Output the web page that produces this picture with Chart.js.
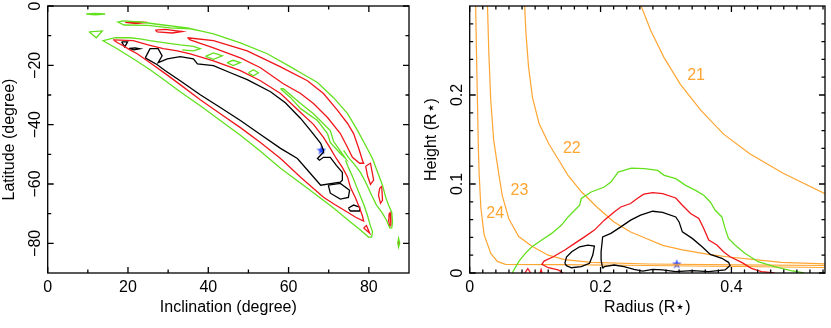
<!DOCTYPE html>
<html>
<head>
<meta charset="utf-8">
<script src="https://cdn.jsdelivr.net/npm/chart.js@4.4.1/dist/chart.umd.min.js"></script>
<style>
  html, body { margin: 0; padding: 0; background: #fff; }
  #wrap { position: relative; width: 831px; height: 328px; }
  #c1 { position: absolute; left: 0; top: 0; }
  #c2 { position: absolute; left: 420px; top: 0; }
</style>
</head>
<body>
<div id="wrap">
  <canvas id="c1" width="420" height="328"></canvas>
  <canvas id="c2" width="411" height="328"></canvas>
</div>
<script>
// ---- left panel: inclination / latitude contours ----
const incTicks = [0, 20, 40, 60, 80];
const incLabels = ['0', '20', '40', '60', '80'];
const incMinor = [10, 30, 50, 70];
const latTicks = [0, -20, -40, -60, -80];
const latLabels = ['0', '\u221220', '\u221240', '\u221260', '\u221280'];
const latMinor = [-10, -30, -50, -70];

const greenTopDash = [[9.6, -2.7], [11.8, -2.5], [14.3, -2.7], [11.8, -3.0]];
const greenTriangle = [[10.3, -8.7], [13.6, -8.4], [12.1, -10.7]];
const greenDiamond1 = [[39.3, -17.0], [41.3, -15.8], [43.5, -16.8], [41.3, -18.0]];
const greenDiamond2 = [[44.7, -19.1], [46.2, -18.3], [48.0, -19.1], [46.2, -20.1]];
const greenDiamond3 = [[50.0, -22.5], [51.2, -21.5], [52.5, -22.5], [51.2, -23.5]];
const greenFarDot = [[87.2, -79.9], [87.4, -78.3], [87.7, -79.9], [87.4, -81.3]];
const greenChannel = [[58.0, -27.9], [60.5, -30.9], [63.0, -34.6], [67.2, -38.6], [69.7, -43.0], [70.4, -46.0],
  [72.9, -49.7], [74.2, -51.4], [73.7, -50.4], [71.2, -45.6], [70.4, -42.0], [66.2, -36.3], [63.0, -32.9], [58.7, -27.9]];
const greenLowerBand = [[33.5, -14.8], [36.3, -15.1], [38.0, -14.4], [36.3, -13.6], [33.0, -13.1], [29.3, -12.4],
  [25.5, -11.7], [23.0, -11.1], [20.5, -10.7], [16.8, -10.7], [13.8, -11.7],
  [17.3, -14.4], [21.3, -17.8], [25.5, -21.5], [29.3, -25.2], [33.0, -28.9], [38.0, -33.6], [43.0, -38.6],
  [48.0, -43.6], [53.0, -49.0], [58.0, -54.7], [64.7, -61.4], [71.2, -68.1], [75.4, -72.8], [77.9, -75.5],
  [79.9, -77.9], [80.7, -77.9],
  [80.9, -76.0], [80.4, -74.2], [79.7, -70.8], [78.9, -67.5], [77.9, -64.1], [76.9, -60.8], [75.9, -57.4],
  [74.9, -54.4], [74.2, -52.0]];
const greenUpperBand = [[73.7, -48.7], [74.9, -51.0], [76.4, -53.4], [77.9, -56.1], [79.2, -59.4], [80.7, -63.8],
  [81.9, -67.1], [83.2, -69.5], [84.4, -72.2], [85.2, -74.8],
  [85.7, -74.8], [85.9, -72.8], [85.7, -69.5], [84.9, -67.1], [84.2, -64.5], [83.4, -60.4], [82.2, -56.1],
  [80.9, -51.4], [79.2, -47.0], [77.2, -42.0], [74.7, -36.3], [71.2, -30.9], [67.2, -25.8], [63.0, -22.5],
  [60.5, -20.5], [54.7, -16.1], [48.0, -12.4], [41.3, -9.4], [34.8, -7.4], [28.8, -6.4], [23.0, -5.4],
  [18.8, -5.0], [17.5, -5.4],
  [19.0, -6.4], [25.0, -6.5], [30.5, -7.4], [35.5, -7.7], [38.0, -8.4]];

const redMain = [[16.3, -11.4], [21.3, -11.7], [25.0, -13.1], [28.8, -14.4], [32.3, -15.1], [35.5, -16.1],
  [41.3, -18.5], [48.0, -21.8], [53.0, -25.2], [58.0, -29.5], [63.0, -35.9], [66.2, -39.9], [68.7, -44.3],
  [70.4, -48.0], [71.9, -51.4], [73.4, -54.4], [74.7, -57.7], [75.4, -61.1], [76.7, -64.8], [77.7, -68.1],
  [78.4, -70.8], [78.7, -72.5],
  [76.7, -71.2], [74.7, -69.5], [71.7, -67.1], [68.7, -64.5], [63.0, -57.7], [58.0, -51.4], [53.0, -46.0],
  [48.0, -41.0], [43.0, -36.3], [38.0, -31.6], [33.0, -26.5], [29.3, -22.8], [25.5, -19.1], [22.3, -16.1],
  [20.5, -14.8], [18.8, -13.4], [17.3, -12.3]];
const redUpper = [[34.8, -10.7], [41.3, -11.7], [49.7, -15.1], [58.0, -20.5], [64.7, -25.2], [68.7, -29.5],
  [72.2, -35.2], [74.7, -39.6], [76.2, -43.0], [77.4, -47.7], [78.4, -52.0], [78.7, -53.0],
  [77.7, -53.0], [75.9, -51.0], [74.7, -47.7], [72.9, -43.0], [69.7, -37.6], [66.2, -32.9], [63.0, -29.5],
  [58.7, -26.2], [53.0, -20.8], [48.0, -17.5], [41.3, -14.1], [35.5, -11.4]];
const redDash1 = [[19.3, -5.5], [22.0, -5.4], [24.8, -5.5], [22.0, -5.9]];
const redDash2 = [[26.8, -8.1], [29.3, -7.9], [33.5, -8.6], [31.0, -9.1], [27.3, -8.7]];
const redLoop1 = [[79.2, -54.0], [80.4, -53.0], [81.2, -58.7], [80.4, -60.1], [79.7, -57.4]];
const redLoop2 = [[82.7, -61.4], [83.2, -60.8], [83.4, -65.5], [82.9, -66.5], [82.4, -63.8]];
const redLoop3 = [[85.0, -70.2], [85.3, -69.7], [85.5, -73.8], [85.2, -74.2], [84.9, -72.2]];
const redTriangle = [[78.7, -74.8], [79.4, -74.0], [80.2, -76.6]];
const redDot1 = [[11.6, -2.8], [12.3, -2.8]];
const redDot2 = [[87.4, -79.4], [87.4, -80.4]];

const blackMain = [[24.3, -17.5], [25.5, -14.4], [27.5, -14.4], [28.5, -16.8], [27.5, -19.1], [29.8, -17.8],
  [33.0, -17.1], [36.3, -17.8], [37.3, -19.5], [41.3, -20.1], [45.5, -22.5], [49.7, -24.8], [55.5, -28.9],
  [59.2, -32.6], [63.0, -37.9], [65.5, -42.0], [68.0, -46.3], [68.7, -48.7], [68.7, -49.3], [67.2, -51.4],
  [67.7, -52.0], [68.7, -51.0], [70.4, -51.0], [71.9, -53.7], [73.4, -56.1], [73.4, -58.7], [72.9, -59.4],
  [68.0, -60.4], [62.2, -51.4], [58.0, -48.0], [53.0, -43.3], [48.0, -38.6], [43.0, -34.2], [38.0, -29.9],
  [33.0, -25.2], [29.3, -21.8], [27.3, -19.8]];
const blackTriangle = [[18.4, -12.1], [19.9, -12.1], [19.2, -13.8]];
const blackDash = [[20.3, -14.3], [21.8, -14.1], [23.0, -14.4], [21.5, -14.8]];
const blackPentagon = [[69.9, -60.4], [72.9, -59.8], [75.2, -62.1], [74.9, -64.5], [72.9, -65.1], [70.4, -63.1]];
const blackSmall = [[74.9, -68.1], [76.2, -67.1], [77.7, -67.8], [77.7, -69.1], [75.4, -69.1]];
const bestLeft = [[68.2, -48.7]];

// ---- right panel: radius / height contours ----
const radTicks = [0, 0.2, 0.4];
const radLabels = ['0', '0.2', '0.4'];
const radMinor = [0.02, 0.04, 0.06, 0.08, 0.1, 0.12, 0.14, 0.16, 0.18, 0.22, 0.24, 0.26, 0.28, 0.3,
  0.32, 0.34, 0.36, 0.38, 0.42, 0.44, 0.46, 0.48, 0.5, 0.52, 0.54];
const hgtTicks = [0, 0.1, 0.2];
const hgtLabels = ['0', '0.1', '0.2'];
const hgtMinor = [0.02, 0.04, 0.06, 0.08, 0.12, 0.14, 0.16, 0.18, 0.22, 0.24, 0.26, 0.28];
const levelNames = ['21', '22', '23', '24'];

const level21 = [[0.262, 0.300], [0.277, 0.272], [0.297, 0.242], [0.322, 0.212], [0.353, 0.183],
  [0.388, 0.156], [0.428, 0.134], [0.479, 0.112], [0.543, 0.089]];
const level22 = [[0.084, 0.300], [0.086, 0.269], [0.090, 0.231], [0.096, 0.197], [0.106, 0.168],
  [0.121, 0.145], [0.136, 0.127], [0.150, 0.110], [0.171, 0.091], [0.196, 0.073], [0.221, 0.057],
  [0.246, 0.046], [0.269, 0.039], [0.295, 0.031], [0.325, 0.026], [0.365, 0.021], [0.396, 0.018],
  [0.436, 0.015], [0.476, 0.012], [0.543, 0.0103]];
const level23 = [[0.0272, 0.300], [0.0291, 0.250], [0.0322, 0.194], [0.0367, 0.149], [0.0447, 0.110],
  [0.0498, 0.087], [0.0598, 0.061], [0.0749, 0.041], [0.0951, 0.030], [0.120, 0.020], [0.145, 0.015],
  [0.186, 0.012], [0.274, 0.0101], [0.408, 0.0092], [0.543, 0.0084]];
const level24 = [[0.0091, 0.300], [0.0103, 0.250], [0.0118, 0.194], [0.0133, 0.138], [0.0145, 0.110],
  [0.0171, 0.073], [0.0220, 0.043], [0.0322, 0.022], [0.0423, 0.013], [0.0548, 0.0097], [0.136, 0.0093],
  [0.272, 0.0084], [0.408, 0.0073], [0.543, 0.0062]];

const greenRH = [[0.0649, 0], [0.0749, 0.0127], [0.0850, 0.0221], [0.0951, 0.0295], [0.1102, 0.0370],
  [0.1253, 0.0445], [0.1404, 0.0538], [0.1503, 0.0630], [0.1605, 0.0705], [0.1680, 0.0761], [0.1706, 0.0837],
  [0.1857, 0.0910], [0.2057, 0.0966], [0.2158, 0.1022], [0.2269, 0.1134], [0.2469, 0.1179], [0.2672, 0.1172],
  [0.2872, 0.1153], [0.2974, 0.1097], [0.3149, 0.1060], [0.3300, 0.0985], [0.3451, 0.0929], [0.3577, 0.0873],
  [0.3677, 0.0798], [0.3753, 0.0705], [0.3854, 0.0630], [0.3903, 0.0501], [0.3955, 0.0389], [0.4054, 0.0314],
  [0.4205, 0.0221], [0.4408, 0.0127], [0.4658, 0.0071], [0.4910, 0.0026], [0.5111, 0]];
const redRH = [[0.1428, 0], [0.1352, 0.0034], [0.1202, 0.0059], [0.1102, 0.0097], [0.1137, 0.0134],
  [0.1277, 0.0183], [0.1454, 0.0258], [0.1605, 0.0333], [0.1755, 0.0406], [0.1906, 0.0482], [0.2057, 0.0594],
  [0.2208, 0.0686], [0.2309, 0.0742], [0.2460, 0.0781], [0.2560, 0.0837], [0.2661, 0.0885], [0.2797, 0.0904],
  [0.2948, 0.0893], [0.3149, 0.0843], [0.3250, 0.0761], [0.3375, 0.0669], [0.3502, 0.0613], [0.3577, 0.0501],
  [0.3653, 0.0370], [0.3778, 0.0314], [0.3879, 0.0239], [0.3979, 0.0183], [0.4156, 0.0120], [0.4306, 0.0053],
  [0.4457, 0.0015], [0.4658, 0]];
const redBump1 = [[0.0842, 0], [0.0888, 0.0050], [0.0933, 0]];
const redBump2 = [[0.1076, 0], [0.1091, 0.0039], [0.1106, 0]];
const blackSmallRH = [[0.1454, 0.0109], [0.1479, 0.0179], [0.1559, 0.0239], [0.1680, 0.0295], [0.1805, 0.0314],
  [0.1906, 0.0302], [0.1881, 0.0202], [0.1831, 0.0109], [0.1706, 0.0071], [0.1555, 0.0059], [0.1479, 0.0082]];
const blackMainRH = [[0.2032, 0.0053], [0.2008, 0.0146], [0.2008, 0.0239], [0.2032, 0.0406], [0.2158, 0.0445],
  [0.2309, 0.0518], [0.2460, 0.0594], [0.2611, 0.0650], [0.2797, 0.0694], [0.2948, 0.0680], [0.3149, 0.0630],
  [0.3200, 0.0574], [0.3250, 0.0462], [0.3401, 0.0389], [0.3552, 0.0295], [0.3677, 0.0209], [0.3854, 0.0165],
  [0.3955, 0.0120], [0.3979, 0.0084], [0.3903, 0.0034], [0.3653, 0.0015], [0.3401, 0.0026], [0.3149, 0.0015],
  [0.2948, 0.0034], [0.2797, 0.0041], [0.2646, 0.0022], [0.2510, 0.0041], [0.2359, 0.0071], [0.2208, 0.0090],
  [0.2057, 0.0071]];
const bestRight = [[0.3164, 0.0097]];

// ---- drawing ----
const FONT = '"Liberation Sans", Arial, Helvetica, sans-serif';
const GREEN = '#63e01e';
const RED = '#f0161b';
const ORANGE = '#ffa532';

function starImage(size, color) {
  const c = document.createElement('canvas');
  c.width = c.height = size;
  const g = c.getContext('2d');
  g.fillStyle = color;
  g.beginPath();
  for (let i = 0; i < 10; i++) {
    const r = i % 2 ? size * 0.21 : size * 0.5;
    const a = -Math.PI / 2 + i * Math.PI / 5;
    g.lineTo(size / 2 + r * Math.cos(a), size / 2 + r * Math.sin(a));
  }
  g.closePath();
  g.fill();
  return c;
}
const star = starImage(10, '#2e4cff');

const line = (arr, color, closed = true, width = 1.3) => ({
  data: (closed ? arr.concat([arr[0]]) : arr).map(([x, y]) => ({ x, y })),
  showLine: true, borderColor: color, borderWidth: width, pointRadius: 0,
  fill: false, tension: 0
});
const marker = arr => ({
  data: arr.map(([x, y]) => ({ x, y })), showLine: false, pointStyle: star, pointRadius: 5
});

const pickLabel = (v, vals, labels) => {
  const i = vals.findIndex(t => Math.abs(t - v) < 1e-6);
  return i < 0 ? '' : labels[i];
};

// frame with inward ticks on all four sides, rotated y tick labels
const frameTicks = {
  id: 'frameTicks',
  afterDatasetsDraw(chart, args, o) {
    const { ctx, chartArea: a, scales: { x, y } } = chart;
    ctx.save();
    ctx.strokeStyle = '#000';
    ctx.lineWidth = 1.3;
    ctx.beginPath();
    const seg = (x1, y1, x2, y2) => { ctx.moveTo(x1, y1); ctx.lineTo(x2, y2); };
    const xt = (vals, len) => vals.forEach(v => {
      const p = x.getPixelForValue(v);
      seg(p, a.bottom, p, a.bottom - len);
      seg(p, a.top, p, a.top + len);
    });
    const yt = (vals, len) => vals.forEach(v => {
      const p = y.getPixelForValue(v);
      seg(a.left, p, a.left + len, p);
      seg(a.right, p, a.right - len, p);
    });
    xt(o.xMajor, 6); xt(o.xMinor, 3.5);
    yt(o.yMajor, 6); yt(o.yMinor, 3.5);
    ctx.stroke();
    ctx.strokeRect(a.left, a.top, a.right - a.left, a.bottom - a.top);
    ctx.fillStyle = '#000';
    ctx.font = '16px ' + FONT;
    ctx.textAlign = 'center';
    ctx.textBaseline = 'alphabetic';
    o.yMajor.forEach((v, i) => {
      ctx.save();
      ctx.translate(a.left - 7.5, y.getPixelForValue(v));
      ctx.rotate(-Math.PI / 2);
      ctx.fillText(o.yLabels[i], 0, 0);
      ctx.restore();
    });
    ctx.restore();
  }
};

const curveLabels = {
  id: 'curveLabels',
  afterDatasetsDraw(chart, args, o) {
    if (!o.items) return;
    const { ctx, scales: { x, y } } = chart;
    ctx.save();
    ctx.fillStyle = ORANGE;
    ctx.font = '16px ' + FONT;
    ctx.textAlign = 'center';
    ctx.textBaseline = 'middle';
    o.items.forEach(it => ctx.fillText(it.text, x.getPixelForValue(it.x), y.getPixelForValue(it.y)));
    ctx.restore();
  }
};

function makeScales(xr, yr, xTitle, yTitle, yWidth, yTitlePad) {
  return {
    x: {
      type: 'linear', min: xr.min, max: xr.max,
      grid: { display: false, drawTicks: false }, border: { display: false },
      ticks: {
        stepSize: xr.step, autoSkip: false, maxRotation: 0, padding: 5, color: '#000',
        font: { family: FONT, size: 16 },
        callback: v => pickLabel(v, xr.ticks, xr.labels)
      },
      title: { display: true, text: xTitle, color: '#000', font: { family: FONT, size: 16 },
        padding: { top: 0, bottom: 11 } },
      afterFit: s => { s.height = 55; }
    },
    y: {
      type: 'linear', min: yr.min, max: yr.max,
      grid: { display: false, drawTicks: false }, border: { display: false },
      ticks: { display: false },
      title: { display: true, text: yTitle, color: '#000', font: { family: FONT, size: 16 },
        padding: { top: yTitlePad, bottom: 0 } },
      afterFit: s => { s.width = yWidth; }
    }
  };
}

new Chart(document.getElementById('c1'), {
  type: 'scatter',
  data: {
    datasets: [
      line(greenTopDash, GREEN), line(greenTriangle, GREEN), line(greenDiamond1, GREEN),
      line(greenDiamond2, GREEN), line(greenDiamond3, GREEN), line(greenFarDot, GREEN),
      line(greenChannel, GREEN), line(greenLowerBand, GREEN, false), line(greenUpperBand, GREEN, false),
      line(redMain, RED), line(redUpper, RED), line(redDash1, RED), line(redDash2, RED),
      line(redLoop1, RED), line(redLoop2, RED), line(redLoop3, RED), line(redTriangle, RED),
      line(redDot1, RED, false), line(redDot2, RED, false),
      line(blackMain, '#000'), line(blackTriangle, '#000'), line(blackDash, '#000'),
      line(blackPentagon, '#000'), line(blackSmall, '#000'),
      marker(bestLeft)
    ]
  },
  options: {
    responsive: false, animation: false, events: [],
    layout: { padding: { left: 0, right: 11, top: 5, bottom: 0 } },
    scales: makeScales({ min: 0, max: 90, step: 20, ticks: incTicks, labels: incLabels },
      { min: -90, max: 0 }, 'Inclination (degree)', 'Latitude (degree)', 47.7, 0),
    plugins: {
      legend: { display: false }, tooltip: { enabled: false },
      frameTicks: { xMajor: incTicks, xMinor: incMinor, yMajor: latTicks, yMinor: latMinor, yLabels: latLabels }
    }
  },
  plugins: [frameTicks]
});

new Chart(document.getElementById('c2'), {
  type: 'scatter',
  data: {
    datasets: [
      line(greenRH, GREEN, false),
      line(redRH, RED, false), line(redBump1, RED, false), line(redBump2, RED, false),
      line(blackSmallRH, '#000'), line(blackMainRH, '#000'),
      line(level21, ORANGE, false, 1.2), line(level22, ORANGE, false, 1.2),
      line(level23, ORANGE, false, 1.2), line(level24, ORANGE, false, 1.2),
      marker(bestRight)
    ]
  },
  options: {
    responsive: false, animation: false, events: [],
    layout: { padding: { left: 0, right: 1.3, top: 5, bottom: 0 } },
    scales: makeScales({ min: 0, max: 0.543, step: 0.2, ticks: radTicks, labels: radLabels },
      { min: 0, max: 0.3 }, 'Radius (R\u22C6)', 'Height (R\u22C6)', 49.7, 2.4),
    plugins: {
      legend: { display: false }, tooltip: { enabled: false },
      frameTicks: { xMajor: radTicks, xMinor: radMinor, yMajor: hgtTicks, yMinor: hgtMinor, yLabels: hgtLabels },
      curveLabels: {
        items: [
          { text: levelNames[0], x: 0.346, y: 0.222 },
          { text: levelNames[1], x: 0.156, y: 0.140 },
          { text: levelNames[2], x: 0.076, y: 0.093 },
          { text: levelNames[3], x: 0.039, y: 0.067 }
        ]
      }
    }
  },
  plugins: [frameTicks, curveLabels]
});
</script>
</body>
</html>
